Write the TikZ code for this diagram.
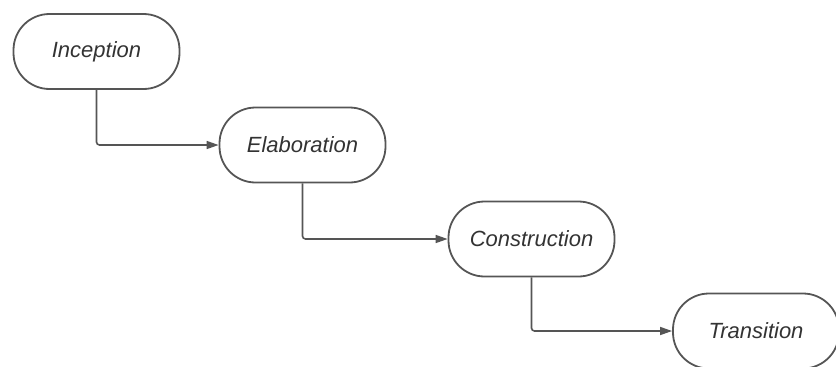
\documentclass[tikz,border=0pt]{standalone}
\usepackage{fontspec}
\setmainfont{Liberation Sans}
\usetikzlibrary{arrows.meta}
\definecolor{edge}{HTML}{555555}
\definecolor{txt}{HTML}{333333}
\begin{document}
\begin{tikzpicture}[x=1pt,y=-1pt,
  phase/.style={draw=edge, line width=1.8pt, rounded corners=36pt, minimum width=166pt, minimum height=75pt, inner sep=0pt, text=txt, font=\fontsize{22}{26}\selectfont\itshape},
  conn/.style={draw=edge, line width=1.6pt, rounded corners=3pt, -{Triangle[length=12pt,width=8pt]}}]
\useasboundingbox (0,0) rectangle (836,367);
\node[phase] (inc) at (96.5,51.5) {Inception};
\node[phase] (ela) at (302.5,145) {Elaboration};
\node[phase] (con) at (531.5,239) {Construction};
\node[phase] (tra) at (756,331) {Transition};
\draw[conn] (inc.south) |- (ela.west);
\draw[conn] (ela.south) |- (con.west);
\draw[conn] (con.south) |- (tra.west);
\end{tikzpicture}
\end{document}
